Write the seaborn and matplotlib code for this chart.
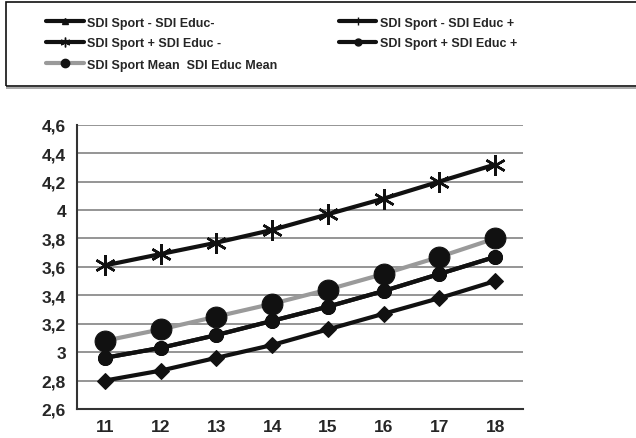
import pandas as pd
import seaborn as sns
import matplotlib.pyplot as plt
from matplotlib.lines import Line2D
from matplotlib.patches import Rectangle

# Data
ages = [11, 12, 13, 14, 15, 16, 17, 18]
sport_minus_educ_minus = [2.80, 2.87, 2.96, 3.05, 3.16, 3.27, 3.38, 3.50]
sport_minus_educ_plus = [2.96, 3.03, 3.12, 3.22, 3.32, 3.43, 3.55, 3.67]
sport_plus_educ_minus = [3.61, 3.69, 3.77, 3.86, 3.97, 4.08, 4.20, 4.32]
sport_plus_educ_plus = [2.96, 3.03, 3.12, 3.22, 3.32, 3.43, 3.55, 3.67]
sport_mean_educ_mean = [3.08, 3.16, 3.25, 3.34, 3.44, 3.55, 3.67, 3.80]
y_ticks = [2.6, 2.8, 3.0, 3.2, 3.4, 3.6, 3.8, 4.0, 4.2, 4.4, 4.6]
y_tick_labels = ["2,6", "2,8", "3", "3,2", "3,4", "3,6", "3,8", "4", "4,2", "4,4", "4,6"]

sns.set_style("white")
plt.rcParams['font.family'] = ['Liberation Sans', 'DejaVu Sans']
plt.rcParams['font.weight'] = 'bold'

fig = plt.figure(figsize=(6.36, 4.39), dpi=100)
ax = fig.add_axes([77 / 636, 1 - 410 / 439, 446 / 636, 284.3 / 439])

x = list(range(len(ages)))
dark = "#111111"
grey = "#9a9a9a"

# grid first
for v in y_ticks:
    ax.axhline(v, color="#8c8c8c", lw=1.3, zorder=0)

sns.lineplot(x=x, y=sport_minus_educ_plus, ax=ax, color=dark, lw=3,
             marker="o", markersize=10, markeredgecolor=dark, zorder=2)
sns.lineplot(x=x, y=sport_mean_educ_mean, ax=ax, color=grey, lw=3,
             marker="o", markersize=15, markerfacecolor=dark,
             markeredgecolor=dark, zorder=3)
sns.lineplot(x=x, y=sport_minus_educ_minus, ax=ax, color=dark, lw=3,
             marker="D", markersize=8, markeredgecolor=dark, zorder=4)
sns.lineplot(x=x, y=sport_plus_educ_plus, ax=ax, color=dark, lw=3,
             marker="o", markersize=10, markeredgecolor=dark, zorder=4)
sns.lineplot(x=x, y=sport_plus_educ_minus, ax=ax, color=dark, lw=3,
             marker=(6, 2, 0), markersize=15, markeredgewidth=1.8,
             markeredgecolor=dark, zorder=4)

ax.set_xlim(-0.5, len(ages) - 0.5)
ax.set_ylim(2.6, 4.6)
ax.set_yticks(y_ticks)
ax.set_yticklabels(y_tick_labels, fontsize=12.5, fontweight='bold')
ax.set_xticks([i - 0.5 for i in range(len(ages) + 1)])
ax.set_xticklabels([])
ax.set_xticks(x, minor=True)
ax.set_xticklabels([str(a) for a in ages], minor=True, fontsize=12.5, fontweight='bold')
ax.tick_params(axis='x', which='major', direction='out', length=5, width=1.5, color="#333333")
ax.tick_params(axis='x', which='minor', length=0, pad=7)
ax.tick_params(axis='y', direction='out', length=5, width=1.5, color="#333333", pad=3)
for s in ['top', 'right']:
    ax.spines[s].set_visible(False)
ax.spines['left'].set_color("#333333")
ax.spines['left'].set_linewidth(1.5)
ax.spines['bottom'].set_color("#333333")
ax.spines['bottom'].set_linewidth(1.5)
ax.set_xlabel("")
ax.set_ylabel("")

# legend box
fig.patches.append(Rectangle((6 / 636, 1 - 87 / 439), 640 / 636, 84 / 439,
                             transform=fig.transFigure, fill=False,
                             edgecolor=dark, lw=1.2))
fig.patches.append(Rectangle((6 / 636, 1 - 89.5 / 439), 640 / 636, 1.5 / 439,
                             transform=fig.transFigure, color="#aaaaaa", lw=0))

handles = [
    Line2D([], [], color=dark, lw=3, marker="^", markersize=4),
    Line2D([], [], color=dark, lw=3, marker=(6, 2, 0), markersize=7, markeredgewidth=1),
    Line2D([], [], color=grey, lw=3, marker="o", markersize=6, markerfacecolor=dark, markeredgecolor=dark),
    Line2D([], [], color=dark, lw=3, marker="|", markersize=6),
    Line2D([], [], color=dark, lw=3, marker="o", markersize=5),
]
labels = ["SDI Sport - SDI Educ-", "SDI Sport + SDI Educ -", "SDI Sport Mean  SDI Educ Mean",
          "SDI Sport - SDI Educ +", "SDI Sport + SDI Educ +"]
leg = fig.legend(handles, labels, ncol=2, loc='upper left',
                 bbox_to_anchor=(46 / 636, 1 - 17.5 / 439),
                 frameon=False, prop={'size': 9, 'weight': 'bold'},
                 handlelength=3.0, handletextpad=0.3, labelspacing=0.72,
                 columnspacing=4.9, borderaxespad=0, borderpad=0)

fig.savefig("out.png", dpi=100)
